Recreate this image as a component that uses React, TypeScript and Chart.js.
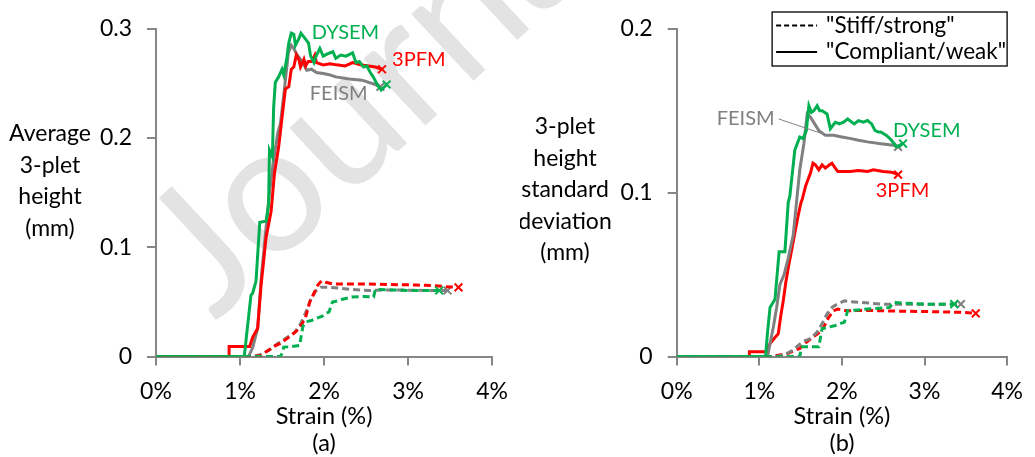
import { useEffect, useRef } from "react";
import { Chart, registerables } from "chart.js";

Chart.register(...registerables);

const FONT = "Lato, 'Open Sans', sans-serif";
const RED = "#ff0000";
const GREEN = "#00b050";
const GRAY = "#808080";
const AXIS = "#868686";

// ---------- (a) average 3-plet height (mm) vs strain (%) ----------
const aGreenSolidX = [0, 1.05, 1.13, 1.15, 1.19, 1.235, 1.31, 1.34, 1.35, 1.385, 1.4, 1.42, 1.46, 1.5, 1.52, 1.555, 1.58, 1.61, 1.64, 1.66, 1.7, 1.725, 1.775, 1.815, 1.84, 1.88, 1.905, 1.95, 1.99, 2.04, 2.105, 2.14, 2.2, 2.26, 2.34, 2.38, 2.42, 2.47, 2.51, 2.55, 2.585, 2.64, 2.68, 2.745];
const aGreenSolidY = [0, 0, 0.056, 0.058, 0.069, 0.123, 0.124, 0.139, 0.189, 0.183, 0.228, 0.251, 0.256, 0.263, 0.258, 0.272, 0.287, 0.296, 0.295, 0.285, 0.291, 0.296, 0.291, 0.287, 0.275, 0.269, 0.275, 0.282, 0.275, 0.277, 0.279, 0.273, 0.276, 0.275, 0.278, 0.269, 0.27, 0.265, 0.266, 0.26, 0.256, 0.248, 0.244, 0.249];

const aRedSolidX = [0, 0.87, 0.87, 1.115, 1.15, 1.21, 1.25, 1.31, 1.37, 1.41, 1.46, 1.5, 1.54, 1.58, 1.61, 1.64, 1.67, 1.7, 1.72, 1.76, 1.78, 1.81, 1.85, 1.89, 1.91, 1.99, 2.07, 2.15, 2.25, 2.34, 2.43, 2.53, 2.61, 2.69];
const aRedSolidY = [0, 0, 0.0093, 0.0093, 0.0176, 0.026, 0.065, 0.109, 0.133, 0.168, 0.192, 0.219, 0.245, 0.247, 0.263, 0.265, 0.276, 0.272, 0.265, 0.272, 0.266, 0.27, 0.27, 0.276, 0.269, 0.267, 0.268, 0.267, 0.266, 0.269, 0.267, 0.266, 0.265, 0.263];

const aGraySolidX = [0, 1.1, 1.15, 1.21, 1.25, 1.3, 1.35, 1.4, 1.45, 1.48, 1.52, 1.575, 1.61, 1.64, 1.68, 1.74, 1.795, 1.85, 1.91, 1.99, 2.06, 2.14, 2.3, 2.45, 2.61, 2.67];
const aGraySolidY = [0, 0, 0.008, 0.026, 0.07, 0.11, 0.15, 0.18, 0.205, 0.213, 0.239, 0.278, 0.285, 0.282, 0.276, 0.27, 0.262, 0.263, 0.26, 0.259, 0.258, 0.256, 0.254, 0.253, 0.249, 0.247];

const aGreenDashX = [0, 1.48, 1.5, 1.52, 1.6, 1.71, 1.73, 1.75, 1.79, 1.85, 1.91, 1.98, 2.06, 2.1, 2.16, 2.22, 2.33, 2.45, 2.59, 2.61, 2.8, 3.0, 3.2, 3.37];
const aGreenDashY = [0, 0, 0.003, 0.0087, 0.009, 0.0102, 0.02, 0.028, 0.032, 0.033, 0.035, 0.037, 0.041, 0.05, 0.051, 0.0525, 0.0546, 0.055, 0.0546, 0.0614, 0.061, 0.0605, 0.0605, 0.0605];

const aRedDashX = [0, 1.13, 1.25, 1.32, 1.37, 1.42, 1.48, 1.55, 1.62, 1.68, 1.73, 1.78, 1.83, 1.88, 1.93, 1.97, 2.02, 2.1, 2.3, 2.5, 2.8, 3.1, 3.31, 3.45, 3.6];
const aRedDashY = [0, 0, 0.001, 0.005, 0.0075, 0.01, 0.012, 0.016, 0.02, 0.024, 0.029, 0.036, 0.05, 0.058, 0.066, 0.0694, 0.068, 0.0665, 0.0665, 0.0665, 0.066, 0.0655, 0.065, 0.064, 0.0634];

const aGrayDashX = [0, 1.15, 1.25, 1.35, 1.45, 1.55, 1.65, 1.72, 1.78, 1.84, 1.9, 1.96, 2.05, 2.2, 2.33, 2.53, 2.7, 2.9, 3.2, 3.47];
const aGrayDashY = [0, 0, 0.002, 0.006, 0.012, 0.017, 0.022, 0.03, 0.04, 0.052, 0.06, 0.0634, 0.0635, 0.0625, 0.0614, 0.0605, 0.061, 0.061, 0.0605, 0.0605];

const aTicksY = [0, 0.1, 0.2, 0.3];

// ---------- (b) 3-plet height standard deviation (mm) vs strain (%) ----------
const bGreenSolidX = [0, 1.075, 1.1, 1.13, 1.19, 1.24, 1.31, 1.35, 1.37, 1.4, 1.43, 1.46, 1.49, 1.53, 1.57, 1.6, 1.63, 1.66, 1.7, 1.73, 1.76, 1.82, 1.86, 1.89, 1.92, 1.97, 2.02, 2.07, 2.12, 2.15, 2.2, 2.26, 2.31, 2.36, 2.4, 2.44, 2.47, 2.54, 2.6, 2.66, 2.74];
const bGreenSolidY = [0, 0, 0.015, 0.03, 0.035, 0.064, 0.064, 0.094, 0.098, 0.112, 0.126, 0.13, 0.134, 0.133, 0.138, 0.153, 0.149, 0.15, 0.153, 0.15, 0.15, 0.148, 0.139, 0.141, 0.143, 0.142, 0.143, 0.145, 0.143, 0.142, 0.144, 0.143, 0.144, 0.142, 0.138, 0.137, 0.137, 0.135, 0.132, 0.128, 0.13];

const bRedSolidX = [0, 0.88, 0.88, 1.075, 1.1, 1.13, 1.18, 1.23, 1.26, 1.29, 1.32, 1.35, 1.38, 1.41, 1.44, 1.47, 1.505, 1.52, 1.56, 1.59, 1.62, 1.65, 1.68, 1.72, 1.76, 1.8, 1.85, 1.88, 1.92, 1.95, 2.1, 2.2, 2.31, 2.38, 2.5, 2.6, 2.68];
const bRedSolidY = [0, 0, 0.003, 0.003, 0.005, 0.008, 0.011, 0.014, 0.025, 0.034, 0.045, 0.054, 0.062, 0.07, 0.078, 0.086, 0.094, 0.096, 0.104, 0.108, 0.112, 0.118, 0.117, 0.114, 0.117, 0.115, 0.117, 0.118, 0.115, 0.113, 0.113, 0.1135, 0.113, 0.114, 0.113, 0.1125, 0.111];

const bGraySolidX = [0, 1.1, 1.13, 1.17, 1.21, 1.25, 1.3, 1.35, 1.41, 1.45, 1.49, 1.54, 1.58, 1.62, 1.67, 1.72, 1.8, 1.9, 2.0, 2.11, 2.2, 2.31, 2.45, 2.62, 2.68];
const bGraySolidY = [0, 0, 0.008, 0.018, 0.03, 0.044, 0.05, 0.06, 0.074, 0.094, 0.114, 0.13, 0.148, 0.146, 0.142, 0.138, 0.135, 0.135, 0.134, 0.133, 0.132, 0.131, 0.13, 0.129, 0.128];

const bGreenDashX = [0, 1.49, 1.5, 1.52, 1.72, 1.76, 1.84, 1.92, 2.03, 2.07, 2.2, 2.31, 2.45, 2.58, 2.62, 2.8, 3.0, 3.2, 3.36];
const bGreenDashY = [0, 0, 0.003, 0.006, 0.006, 0.017, 0.018, 0.019, 0.021, 0.028, 0.0285, 0.029, 0.0295, 0.03, 0.033, 0.0325, 0.032, 0.032, 0.032];

const bRedDashX = [0, 1.15, 1.25, 1.35, 1.44, 1.49, 1.55, 1.6, 1.68, 1.76, 1.8, 1.84, 1.9, 1.95, 2.05, 2.3, 2.6, 3.0, 3.3, 3.48, 3.62];
const bRedDashY = [0, 0, 0.001, 0.002, 0.004, 0.005, 0.008, 0.01, 0.013, 0.016, 0.02, 0.024, 0.028, 0.029, 0.028, 0.0282, 0.0278, 0.0275, 0.0272, 0.027, 0.0264];

const bGrayDashX = [0, 1.2, 1.3, 1.41, 1.52, 1.62, 1.7, 1.76, 1.82, 1.88, 1.94, 2.03, 2.1, 2.23, 2.5, 2.8, 3.1, 3.44];
const bGrayDashY = [0, 0, 0.001, 0.004, 0.009, 0.011, 0.015, 0.02, 0.026, 0.03, 0.032, 0.034, 0.0335, 0.033, 0.032, 0.032, 0.032, 0.032];

const bTicksY = [0, 0.1, 0.2];

const strainTicks = [0, 1, 2, 3, 4];

type Note = { text: string; x: number; y: number; color: string };

const aNotes: Note[] = [
  { text: "DYSEM", x: 1.853, y: 0.2968, color: GREEN },
  { text: "3PFM", x: 2.81, y: 0.272, color: RED },
  { text: "FEISM", x: 1.83, y: 0.241, color: GRAY },
];
const bNotes: Note[] = [
  { text: "FEISM", x: 0.484, y: 0.145, color: GRAY },
  { text: "DYSEM", x: 2.62, y: 0.1378, color: GREEN },
  { text: "3PFM", x: 2.41, y: 0.1012, color: RED },
];

function line(xs: number[], ys: number[], color: string, dashed: boolean) {
  const last = xs.length - 1;
  return {
    data: xs.map((x, i) => ({ x, y: ys[i] })),
    borderColor: color,
    backgroundColor: color,
    borderWidth: 3,
    borderDash: dashed ? [7, 4] : [],
    tension: 0,
    fill: false,
    pointStyle: "crossRot",
    pointRadius: (c: any) => (c.dataIndex === last ? 5.5 : 0),
    pointHoverRadius: 0,
    pointBorderColor: color,
    pointBorderWidth: 2,
  };
}

type PanelSpec = {
  width: number;
  yMax: number;
  yTicks: number[];
  axisWidth: number;
  padTop: number;
  padRight: number;
  datasets: any[];
  notes: Note[];
  yTitle: string[];
  yTitleX: number;
  yTitleY0: number;
  panelTag: string;
  leader?: [number, number, number, number];
  legend?: boolean;
};

const H = 457;
const BOTTOM = 356.6;

function makeConfig(p: PanelSpec): any {
  const annotations = {
    id: "annotations",
    afterDatasetsDraw(chart: any) {
      const { ctx, chartArea, scales } = chart;
      const xs = scales.x;
      const ys = scales.y;
      ctx.save();
      ctx.textBaseline = "middle";

      // curve names
      ctx.font = `20px ${FONT}`;
      ctx.textAlign = "left";
      for (const n of p.notes) {
        ctx.fillStyle = n.color;
        ctx.fillText(n.text, xs.getPixelForValue(n.x), ys.getPixelForValue(n.y));
      }
      if (p.leader) {
        const [x1, y1, x2, y2] = p.leader;
        ctx.strokeStyle = GRAY;
        ctx.lineWidth = 1;
        ctx.beginPath();
        ctx.moveTo(xs.getPixelForValue(x1), ys.getPixelForValue(y1));
        ctx.lineTo(xs.getPixelForValue(x2), ys.getPixelForValue(y2));
        ctx.stroke();
      }

      // y-axis title, horizontal lines
      ctx.fillStyle = "#000";
      ctx.font = `23px ${FONT}`;
      ctx.textAlign = "center";
      p.yTitle.forEach((t, i) => ctx.fillText(t, p.yTitleX, p.yTitleY0 + i * 31.5));

      // x-axis title and panel tag
      const cx = (chartArea.left + chartArea.right) / 2;
      ctx.font = `23.5px ${FONT}`;
      ctx.fillText("Strain (%)", cx, chartArea.bottom + 60);
      ctx.fillText(p.panelTag, cx, chartArea.bottom + 87);

      if (p.legend) {
        const bx = chartArea.right - 235;
        const by = 12;
        ctx.strokeStyle = "#000";
        ctx.lineWidth = 1.3;
        ctx.strokeRect(bx, by, 235, 54);
        ctx.lineWidth = 2;
        ctx.setLineDash([5, 3]);
        ctx.beginPath();
        ctx.moveTo(bx + 4, by + 13.5);
        ctx.lineTo(bx + 45, by + 13.5);
        ctx.stroke();
        ctx.setLineDash([]);
        ctx.beginPath();
        ctx.moveTo(bx + 4, by + 40);
        ctx.lineTo(bx + 45, by + 40);
        ctx.stroke();
        ctx.font = `22.5px ${FONT}`;
        ctx.textAlign = "left";
        ctx.fillText('"Stiff/strong"', bx + 54, by + 13.5);
        ctx.fillText('"Compliant/weak"', bx + 54, by + 40);
      }
      ctx.restore();
    },
  };

  return {
    type: "line",
    data: { datasets: p.datasets },
    plugins: [annotations],
    options: {
      responsive: false,
      animation: false,
      events: [],
      layout: { padding: { top: p.padTop, right: p.padRight, left: 0, bottom: 0 } },
      plugins: { legend: { display: false }, tooltip: { enabled: false }, title: { display: false } },
      scales: {
        x: {
          type: "linear",
          min: 0,
          max: 4,
          afterBuildTicks: (s: any) => {
            s.ticks = strainTicks.map((v) => ({ value: v }));
          },
          afterFit: (s: any) => {
            s.height = H - BOTTOM;
          },
          ticks: {
            callback: (v: number) => `${v}%`,
            color: "#000",
            font: { family: FONT, size: 23 },
            padding: 12,
            maxRotation: 0,
          },
          grid: { display: true, drawOnChartArea: false, drawTicks: true, tickLength: 9, color: AXIS, lineWidth: 2 },
          border: { display: true, color: AXIS, width: 2 },
        },
        y: {
          type: "linear",
          min: 0,
          max: p.yMax,
          afterBuildTicks: (s: any) => {
            s.ticks = p.yTicks.map((v) => ({ value: v }));
          },
          afterFit: (s: any) => {
            s.width = p.axisWidth;
          },
          ticks: {
            callback: (v: number) => (v === 0 ? "0" : v.toFixed(1)),
            color: "#000",
            font: { family: FONT, size: 23 },
            padding: 15,
          },
          grid: { display: true, drawOnChartArea: false, drawTicks: true, tickLength: 9, color: AXIS, lineWidth: 2 },
          border: { display: true, color: AXIS, width: 2 },
        },
      },
    },
  };
}

const panelA: PanelSpec = {
  width: 520,
  yMax: 0.3,
  yTicks: aTicksY,
  axisWidth: 156,
  padTop: 18.5,
  padRight: 21,
  datasets: [
    line(aGreenSolidX, aGreenSolidY, GREEN, false),
    line(aGreenDashX, aGreenDashY, GREEN, true),
    line(aRedSolidX, aRedSolidY, RED, false),
    line(aRedDashX, aRedDashY, RED, true),
    line(aGraySolidX, aGraySolidY, GRAY, false),
    line(aGrayDashX, aGrayDashY, GRAY, true),
  ],
  notes: aNotes,
  yTitle: ["Average", "3-plet", "height", "(mm)"],
  yTitleX: 50,
  yTitleY0: 134,
  panelTag: "(a)",
};

const panelB: PanelSpec = {
  width: 515,
  yMax: 0.2,
  yTicks: bTicksY,
  axisWidth: 156.7,
  padTop: 23.3,
  padRight: 17.3,
  datasets: [
    line(bGreenSolidX, bGreenSolidY, GREEN, false),
    line(bGreenDashX, bGreenDashY, GREEN, true),
    line(bGraySolidX, bGraySolidY, GRAY, false),
    line(bGrayDashX, bGrayDashY, GRAY, true),
    line(bRedSolidX, bRedSolidY, RED, false),
    line(bRedDashX, bRedDashY, RED, true),
  ],
  notes: bNotes,
  yTitle: ["3-plet", "height", "standard", "deviation", "(mm)"],
  yTitleX: 45,
  yTitleY0: 127,
  panelTag: "(b)",
  leader: [1.235, 0.145, 1.763, 0.136],
  legend: true,
};

function Panel({ spec, left }: { spec: PanelSpec; left: number }) {
  const ref = useRef<HTMLCanvasElement>(null);
  useEffect(() => {
    if (!ref.current) return;
    const chart = new Chart(ref.current, makeConfig(spec));
    return () => chart.destroy();
  }, [spec]);
  return (
    <canvas
      ref={ref}
      width={spec.width}
      height={H}
      style={{ position: "absolute", left, top: 0, width: spec.width, height: H, zIndex: 1 }}
    />
  );
}

function Watermark() {
  const ref = useRef<HTMLCanvasElement>(null);
  useEffect(() => {
    const c = ref.current;
    if (!c) return;
    const ctx = c.getContext("2d");
    if (!ctx) return;
    ctx.clearRect(0, 0, c.width, c.height);
    ctx.save();
    ctx.translate(215, 322);
    ctx.rotate((-43 * Math.PI) / 180);
    ctx.font = `180px ${FONT}`;
    ctx.fillStyle = "#e3e3e3";
    ctx.fillText("Journal Pre-proof", 0, 0);
    ctx.restore();
  }, []);
  return (
    <canvas
      ref={ref}
      width={1035}
      height={H}
      style={{ position: "absolute", left: 0, top: 0, width: 1035, height: H, zIndex: 0 }}
    />
  );
}

export default function App() {
  return (
    <div style={{ position: "absolute", left: 0, top: 0, width: 1035, height: H, background: "#fff", overflow: "hidden" }}>
      <Watermark />
      <Panel spec={panelA} left={0} />
      <Panel spec={panelB} left={520} />
    </div>
  );
}
